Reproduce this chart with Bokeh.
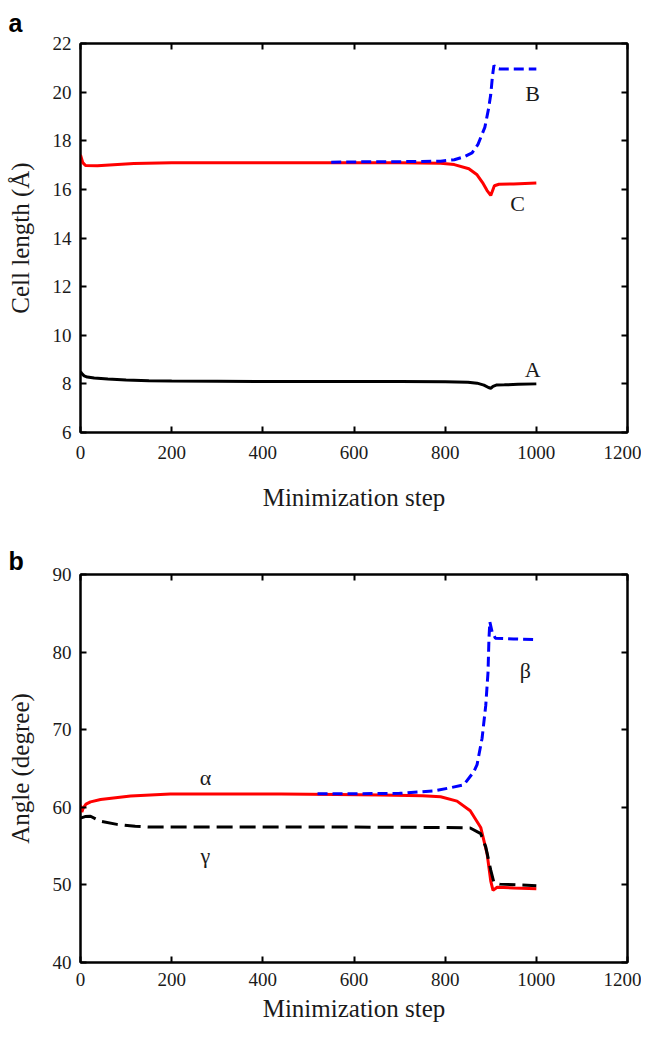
from bokeh.plotting import figure
from bokeh.models import LinearAxis, FixedTicker
from bokeh.layouts import column
from bokeh.core.properties import value
from bokeh.embed import file_html
from bokeh.resources import INLINE

# ---------------- Panel a : cell lengths ----------------
steps_A = [0, 3, 8, 15, 30, 60, 100, 150, 200, 300, 400, 500, 600, 700, 800, 850,
           870, 885, 895, 900, 905, 912, 930, 960, 1000]
cell_A = [8.5, 8.42, 8.33, 8.28, 8.24, 8.2, 8.16, 8.13, 8.12, 8.11, 8.1, 8.1, 8.1,
          8.1, 8.09, 8.07, 8.03, 7.95, 7.85, 7.82, 7.9, 7.95, 7.96, 7.98, 8.0]

steps_B = [550, 600, 700, 750, 790, 820, 840, 859, 872, 887, 895, 900, 904, 907,
           912, 920, 950, 1000]
cell_B = [17.12, 17.13, 17.14, 17.15, 17.16, 17.22, 17.33, 17.5, 17.85, 18.55,
          19.3, 19.9, 20.7, 21.1, 20.98, 20.95, 20.95, 20.95]

steps_C = [0, 5, 11, 37, 117, 200, 300, 400, 500, 600, 700, 790, 820, 852, 870,
           882, 892, 900, 908, 918, 950, 1000]
cell_C = [17.42, 17.1, 16.98, 16.97, 17.06, 17.09, 17.1, 17.1, 17.1, 17.1, 17.09,
          17.07, 17.02, 16.85, 16.6, 16.28, 15.95, 15.75, 16.15, 16.21, 16.22, 16.26]

# ---------------- Panel b : cell angles ----------------
steps_alpha = [0, 3, 6, 12, 22, 44, 110, 197, 300, 440, 560, 658, 750, 790, 826,
               855, 878, 892, 900, 905, 914, 950, 1000]
angle_alpha = [60.3, 59.4, 59.9, 60.4, 60.7, 61.0, 61.45, 61.72, 61.72, 61.7,
               61.65, 61.6, 61.5, 61.35, 60.8, 59.55, 57.4, 54.0, 50.5, 49.3,
               49.7, 49.6, 49.5]

steps_beta = [520, 600, 700, 775, 810, 841, 863, 870, 881, 889, 894, 896, 898,
              903, 910, 950, 1000]
angle_beta = [61.75, 61.75, 61.8, 62.1, 62.5, 62.9, 64.6, 65.5, 68.9, 73.1, 77.4,
              81.6, 83.9, 82.6, 81.8, 81.7, 81.6]

steps_gamma = [0, 10, 22, 44, 80, 120, 153, 250, 400, 600, 800, 855, 878, 889,
               900, 907, 920, 1000]
angle_gamma = [58.6, 58.8, 58.85, 58.2, 57.8, 57.55, 57.45, 57.45, 57.45, 57.45,
               57.4, 57.34, 56.6, 54.9, 51.9, 50.3, 50.1, 49.9]

# series labels
labels_a = ["B", "C", "A"]
labels_a_x = [992, 959, 992]
labels_a_y = [19.93, 15.42, 8.6]
labels_b = ["α", "β", "γ"]
labels_b_x = [274, 976, 274]
labels_b_y = [63.9, 77.6, 53.8]

x_ticks = [0, 200, 400, 600, 800, 1000, 1200]
y_ticks_a = [6, 8, 10, 12, 14, 16, 18, 20, 22]
y_ticks_b = [40, 50, 60, 70, 80, 90]

SERIF = "'Liberation Serif', 'Times New Roman', serif"
SANS = "'Liberation Sans', Arial, sans-serif"
TXT = "#1a1a1a"


def style_axis(ax, ticks, show_labels, label_standoff=8):
    ax.ticker = FixedTicker(ticks=ticks)
    ax.axis_line_color = "black"
    ax.axis_line_width = 2
    ax.major_tick_in = 6
    ax.major_tick_out = 0
    ax.major_tick_line_width = 2
    ax.major_tick_line_color = "black"
    ax.minor_tick_line_color = None
    ax.major_label_text_font = SERIF
    ax.major_label_text_color = TXT
    if show_labels:
        ax.major_label_text_font_size = "19px"
        ax.major_label_standoff = label_standoff
    else:
        ax.major_label_overrides = {t: "" for t in ticks}
        ax.major_label_text_font_size = "1px"
        ax.major_label_standoff = 0


def make_fig(height, yr, yticks, ytitle, top, bottom, letter, title_standoff,
             xlabel_standoff, xtitle_standoff):
    p = figure(width=641, height=height, x_range=(0, 1200), y_range=yr,
               output_backend="svg", toolbar_location=None,
               min_border_left=80, min_border_right=14,
               min_border_top=top, min_border_bottom=bottom)
    p.xgrid.visible = False
    p.ygrid.visible = False
    p.outline_line_color = "black"
    p.outline_line_width = 2
    p.background_fill_color = "white"
    p.border_fill_color = "white"
    style_axis(p.xaxis[0], x_ticks, True, xlabel_standoff)
    style_axis(p.yaxis[0], yticks, True, 9)
    p.xaxis.axis_label = "Minimization step"
    p.yaxis.axis_label = ytitle
    for ax in (p.xaxis[0], p.yaxis[0]):
        ax.axis_label_text_font = SERIF
        ax.axis_label_text_font_size = "25px"
        ax.axis_label_text_font_style = "normal"
        ax.axis_label_text_color = TXT
    p.xaxis.axis_label_standoff = xtitle_standoff
    p.yaxis.axis_label_standoff = 16
    ra = LinearAxis()
    style_axis(ra, yticks, False)
    p.add_layout(ra, "right")
    ta = LinearAxis()
    style_axis(ta, x_ticks, False)
    p.add_layout(ta, "above")
    p.title.text = letter
    p.title.align = "left"
    p.title.offset = -72
    p.title.text_font = SANS
    p.title.text_font_style = "bold"
    p.title.text_font_size = "25px"
    p.title.text_color = "black"
    p.title.standoff = title_standoff
    return p


# ---- panel a ----
pa = make_fig(518, (6, 22), y_ticks_a, "Cell length (Å)", 43, 86, "a", 13, 13, 22)
pa.line(steps_A, cell_A, line_color="black", line_width=3)
pa.line(steps_C, cell_C, line_color="#ff0000", line_width=3)
pa.line(steps_B, cell_B, line_color="#0000ff", line_width=3, line_dash="10 5")
pa.text(x=labels_a_x, y=labels_a_y, text=labels_a, text_font=value(SERIF),
        text_font_size="22px", text_align="center", text_baseline="middle",
        text_color=TXT)

# ---- panel b ----
pb = make_fig(506, (40, 90), y_ticks_b, "Angle (degree)", 56, 58, "b", 0, 10, 6)
pb.line(steps_alpha, angle_alpha, line_color="#ff0000", line_width=3)
pb.line(steps_gamma, angle_gamma, line_color="black", line_width=3, line_dash="16 7")
pb.line(steps_beta, angle_beta, line_color="#0000ff", line_width=3, line_dash="10 5")
pb.text(x=labels_b_x, y=labels_b_y, text=labels_b, text_font=value(SERIF),
        text_font_size="22px", text_align="center", text_baseline="middle",
        text_color=TXT)

layout = column(pa, pb, spacing=0)
open("out.html", "w").write(file_html(layout, INLINE))
